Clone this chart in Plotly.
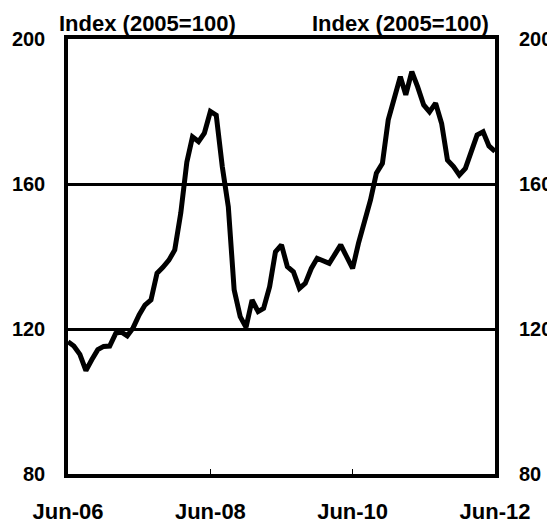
import plotly.graph_objects as go
import pandas as pd

# Monthly index values, Jun-2006 .. Jun-2012
start_month = "2006-06-01"
index_values = [
    116.5, 115.3, 113.0, 108.5, 111.5, 114.3, 115.2, 115.3, 118.8, 119.2,
    118.1, 120.3, 123.9, 126.6, 128.0, 135.4, 137.0, 139.0, 141.8, 152.0,
    166.0, 173.0, 171.7, 174.0, 180.0, 179.0, 164.8, 153.7, 130.8, 123.4,
    120.5, 128.0, 124.8, 125.7, 131.7, 141.3, 143.2, 137.2, 135.8, 131.2,
    132.6, 136.7, 139.5, 138.8, 138.1, 140.5, 143.2, 140.0, 136.7, 143.6,
    149.2, 155.6, 163.0, 165.7, 177.7, 183.5, 189.6, 184.6, 191.0, 186.8,
    181.8, 179.9, 182.3, 176.7, 166.6, 164.8, 162.5, 164.3, 169.5, 173.5,
    174.4, 170.5, 169.0,
]
dates = pd.date_range(start_month, periods=len(index_values), freq="MS")

x_tick_vals = ["2006-06-01", "2008-06-01", "2010-06-01", "2012-06-01"]
x_tick_text = ["Jun-06", "Jun-08", "Jun-10", "Jun-12"]
y_tick_vals = [80, 120, 160, 200]
y_range = [80, 200]
axis_title = "Index (2005=100)"

FAM = "Liberation Sans, Arial, sans-serif"
FONT = dict(family=FAM, size=22, color="black", weight="bold")
YFONT = dict(family=FAM, size=20, color="black", weight="bold")

fig = go.Figure()
fig.add_trace(go.Scatter(x=dates, y=index_values, mode="lines",
                         line=dict(color="black", width=5), showlegend=False,
                         hoverinfo="skip"))
fig.add_trace(go.Scatter(x=dates, y=index_values, mode="lines", yaxis="y2",
                         line=dict(color="rgba(0,0,0,0)", width=0), showlegend=False,
                         hoverinfo="skip"))

# page body has an 8px default margin, so the figure is sized to fit inside it
fig.update_layout(
    width=547, height=513,
    margin=dict(l=60, r=60, t=31, b=47),
    plot_bgcolor="white", paper_bgcolor="white",
    font=FONT,
    xaxis=dict(
        range=[x_tick_vals[0], x_tick_vals[-1]],
        tickvals=x_tick_vals, ticktext=x_tick_text,
        ticks="inside", ticklen=5, tickwidth=1, tickcolor="black",
        showline=True, linecolor="black", linewidth=3.5, mirror=True,
        showgrid=False, zeroline=False, automargin=False,
        ticklabelstandoff=15,
        tickfont=FONT,
    ),
    yaxis=dict(
        range=y_range, tickvals=y_tick_vals,
        ticks="", showline=True, linecolor="black", linewidth=3.5, mirror=True,
        showgrid=True, gridcolor="black", gridwidth=3, automargin=False,
        zeroline=False, ticklabelstandoff=15, tickfont=YFONT,
    ),
    yaxis2=dict(
        range=y_range, tickvals=y_tick_vals, overlaying="y", side="right",
        ticks="", showline=False, showgrid=False, zeroline=False, automargin=False,
        ticklabelstandoff=23, tickfont=YFONT,
    ),
    annotations=[
        dict(text=axis_title, xref="paper", yref="paper", x=0.187, y=1.035,
             xanchor="center", yanchor="middle", showarrow=False, font=FONT),
        dict(text=axis_title, xref="paper", yref="paper", x=0.778, y=1.035,
             xanchor="center", yanchor="middle", showarrow=False, font=FONT),
    ],
)

fig.write_html("out.html")
